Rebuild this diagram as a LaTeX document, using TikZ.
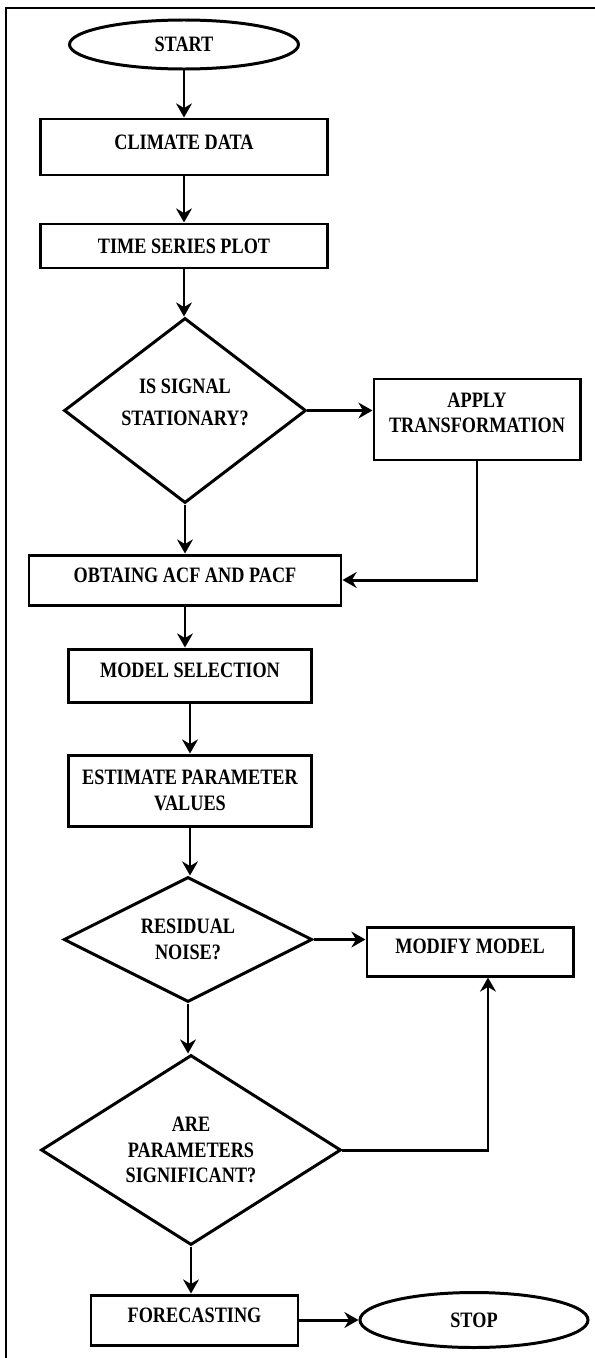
\documentclass[tikz,border=0pt]{standalone}
\usepackage{fontspec}
\setmainfont{Liberation Serif}[FakeStretch=0.83]
\usetikzlibrary{arrows.meta, shapes, positioning}
\tikzset{
    procB/.style args={#1 #2}{
        draw, rectangle, line width=1.7pt,
        minimum width=#1cm, minimum height=#2cm,
        inner sep=0pt, align=center,
        font=\bfseries\fontsize{12.5}{14.5}\selectfont
    },
    decB/.style args={#1 #2}{
        draw, diamond, aspect=1.5, line width=1.7pt,
        minimum width=#1cm, minimum height=#2cm,
        inner sep=0pt, align=center,
        font=\bfseries\fontsize{12.5}{14.5}\selectfont
    },
    termB/.style args={#1 #2}{
        draw, ellipse, line width=1.7pt,
        minimum width=#1cm, minimum height=#2cm,
        inner sep=0pt, align=center,
        font=\bfseries\fontsize{12.5}{14.5}\selectfont
    },
    lineA/.style={line width=1.7pt, -{Stealth[length=8pt, width=9pt]}}
}

\begin{document}
\begin{tikzpicture}
    \useasboundingbox (0,0) rectangle (11.9,-27.16);
    % frame
    \draw[line width=1pt] (11.9,-0.16) -- (0.12,-0.16) -- (0.12,-27.16);
    % main column
    \node[termB={4.58 0.98}] (start) at (3.68,-0.89) {START};
    \node[procB={5.74 1.12}, text depth=0.2cm] (climate) at (3.68,-2.94) {CLIMATE DATA};
    \node[procB={5.74 0.88}] (time) at (3.68,-4.92) {TIME SERIES PLOT};
    \node[decB={4.84 3.70}, text depth=0.34cm] (stat) at (3.70,-8.21) {IS SIGNAL\\[0.14cm] STATIONARY?};
    \node[procB={6.24 1.00}, text depth=0.2cm] (acf) at (3.70,-11.60) {OBTAING ACF AND PACF};
    \node[procB={4.85 1.06}, text depth=0.2cm] (model) at (3.80,-13.51) {MODEL SELECTION};
    \node[procB={4.85 1.42}] (est) at (3.80,-15.81) {ESTIMATE PARAMETER\\ VALUES};
    \node[decB={4.97 2.50}] (res) at (3.76,-18.79) {RESIDUAL\\ NOISE?};
    \node[decB={6.00 3.80}] (sig) at (3.82,-23.00) {ARE\\ PARAMETERS\\ SIGNIFICANT?};
    \node[procB={4.14 1.00}, text depth=0.2cm] (fore) at (3.89,-26.40) {FORECASTING};
    % right column
    \node[procB={4.12 1.62}, text depth=0.28cm] (apply) at (9.54,-8.39) {APPLY\\ TRANSFORMATION};
    \node[procB={4.12 0.98}, text depth=0.2cm] (modify) at (9.40,-19.03) {MODIFY MODEL};
    \node[termB={4.56 1.10}] (stop) at (9.48,-26.40) {STOP};
    % connectors
    \draw[lineA] (start) -- (climate);
    \draw[lineA] (climate) -- (time);
    \draw[lineA] (time.south) -- (time.south |- stat.north);
    \draw[lineA] (stat) -- (acf);
    \draw[lineA] (stat.east) -- (stat.east -| apply.west);
    \draw[lineA] (apply.south) |- (acf.east);
    \draw[lineA] (acf.south) -- (acf.south |- model.north);
    \draw[lineA] (model) -- (est);
    \draw[lineA] (est.south) -- (est.south |- res.north);
    \draw[lineA] (res.east) -- (res.east -| modify.west);
    \draw[lineA] (res.south) -- (res.south |- sig.north);
    \draw[lineA] (sig.east) -| ([xshift=0.36cm]modify.south);
    \draw[lineA] (sig.south) -- (sig.south |- fore.north);
    \draw[lineA] (fore) -- (stop);
\end{tikzpicture}
\end{document}
